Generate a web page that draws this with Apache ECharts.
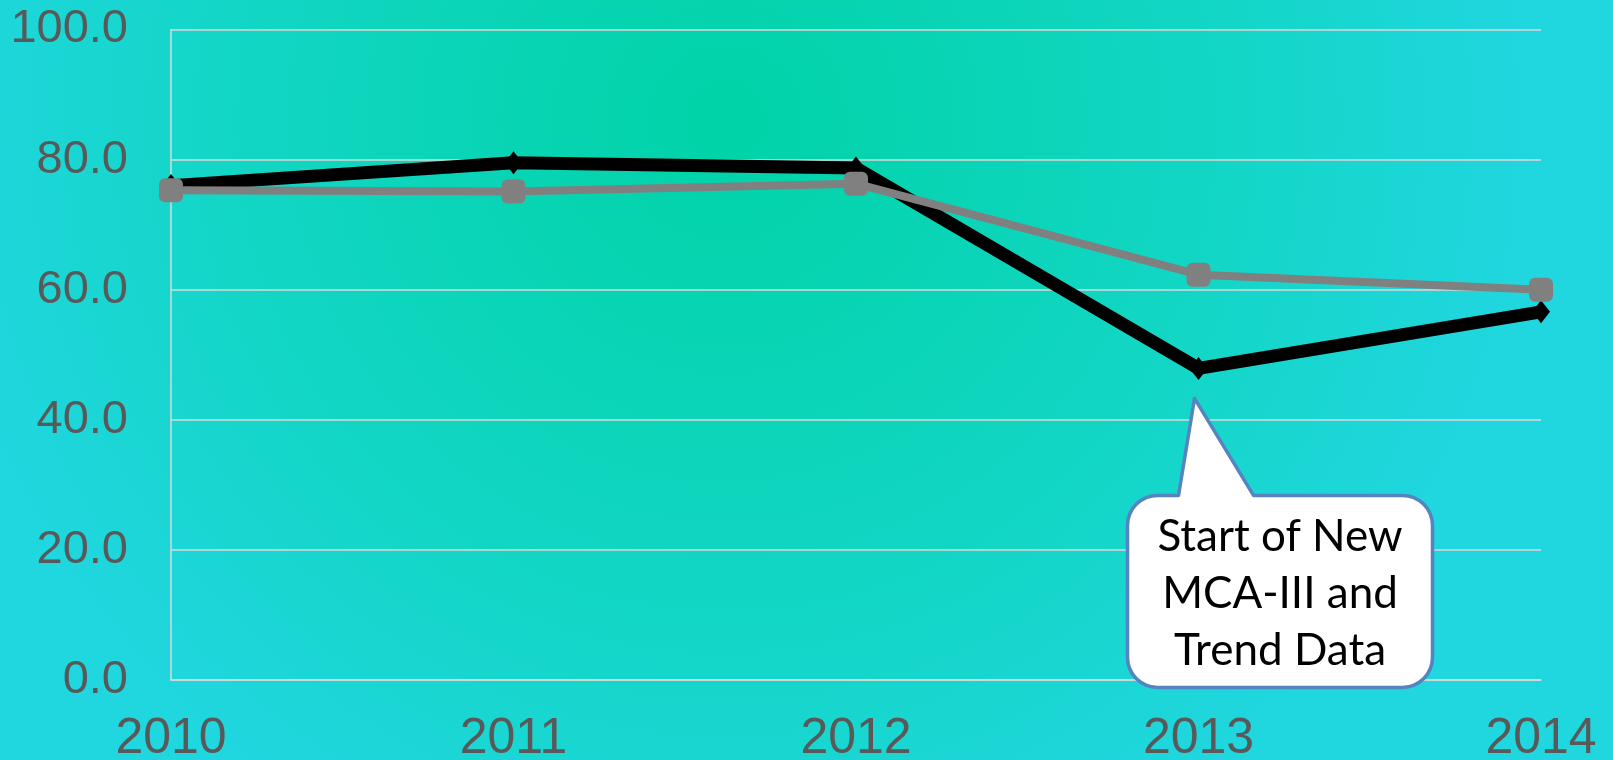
<!DOCTYPE html>
<html>
<head>
<meta charset="utf-8">
<script src="https://cdn.jsdelivr.net/npm/echarts@6/dist/echarts.min.js"></script>
<style>
    html, body { margin: 0; padding: 0; }
    #chart { width: 1613px; height: 760px; }
</style>
</head>
<body>
<div id="chart"></div>
<script>
// values
const years = ['2010', '2011', '2012', '2013', '2014'];
const blackVals = [76.0, 79.5, 78.7, 47.9, 56.6];
const grayVals = [75.3, 75.1, 76.3, 62.3, 60.0];
const yTicks = [0, 20, 40, 60, 80, 100];
const calloutLines = ['Start of New', 'MCA-III and', 'Trend Data'];

const chart = echarts.init(document.getElementById('chart'));

chart.setOption({
    animation: false,
    backgroundColor: {
        type: 'radial',
        x: 0.45,
        y: 0.16,
        r: 1.05,
        colorStops: [
            { offset: 0, color: '#00d3a7' },
            { offset: 0.6, color: '#12d6c4' },
            { offset: 1, color: '#20d6df' }
        ]
    },
    grid: {
        left: 171,
        right: 72,
        top: 29.5,
        bottom: 80,
        outerBoundsMode: 'none'
    },
    xAxis: {
        type: 'category',
        data: years,
        boundaryGap: false,
        axisLine: { show: true, lineStyle: { color: '#d9d9d9', width: 1.5 } },
        axisTick: { show: false },
        axisLabel: {
            color: '#595959',
            fontFamily: 'Liberation Sans, Arial',
            fontSize: 50,
            lineHeight: 50,
            margin: 34
        }
    },
    yAxis: {
        type: 'value',
        min: yTicks[0],
        max: yTicks[yTicks.length - 1],
        interval: 20,
        axisLine: { show: true, lineStyle: { color: '#d9d9d9', width: 1.5 } },
        axisTick: { show: false },
        splitLine: { lineStyle: { color: '#d9d9d9', width: 1.5 } },
        axisLabel: {
            color: '#595959',
            fontFamily: 'Liberation Sans, Arial',
            fontSize: 47,
            margin: 43,
            formatter: v => v.toFixed(1)
        }
    },
    series: [
        {
            type: 'line',
            data: blackVals,
            symbol: 'diamond',
            symbolSize: [18, 23],
            lineStyle: { color: '#000', width: 13, join: 'round' },
            itemStyle: { color: '#000' },
            z: 2
        },
        {
            type: 'line',
            data: grayVals,
            symbol: 'roundRect',
            symbolSize: 24,
            lineStyle: { color: '#808080', width: 8 },
            itemStyle: { color: '#808080' },
            z: 3
        }
    ]
});

// callout bubble anchored to the 2013 point of the black series
const p = chart.convertToPixel({ seriesIndex: 0 }, [3, blackVals[3]]);
const tip = [p[0] - 4, p[1] + 30];
const x0 = p[0] - 71, x1 = p[0] + 234, y0 = p[1] + 127, y1 = p[1] + 319, r = 30;
const tL = p[0] - 20, tR = p[0] + 55;

function corner(cx, cy, a0) {
    const pts = [];
    for (let i = 0; i <= 8; i++) {
        const a = a0 + (Math.PI / 2) * i / 8;
        pts.push([cx + r * Math.cos(a), cy + r * Math.sin(a)]);
    }
    return pts;
}
const bubble = [].concat(
    [[tL, y0], tip, [tR, y0]],
    corner(x1 - r, y0 + r, -Math.PI / 2),
    corner(x1 - r, y1 - r, 0),
    corner(x0 + r, y1 - r, Math.PI / 2),
    corner(x0 + r, y0 + r, Math.PI)
);

chart.setOption({
    graphic: [
        {
            type: 'polygon',
            shape: { points: bubble },
            style: { fill: '#fff', stroke: '#5684c0', lineWidth: 3.5, lineJoin: 'round' },
            z: 10
        },
        {
            type: 'text',
            x: (x0 + x1) / 2,
            y: (y0 + y1) / 2 + 2,
            style: {
                text: calloutLines.join('\n'),
                fill: '#000',
                font: '44px Lato',
                lineHeight: 57,
                align: 'center',
                verticalAlign: 'middle'
            },
            z: 11
        }
    ]
});
</script>
</body>
</html>
